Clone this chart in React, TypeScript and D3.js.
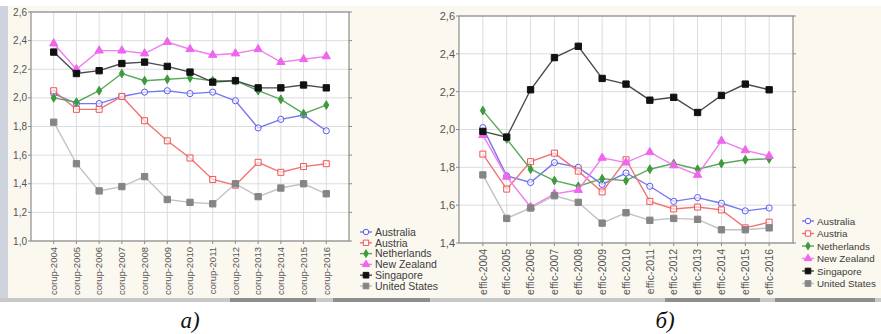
import React from "react"
import * as d3 from "d3"

// --- data ---
const years = ["2004", "2005", "2006", "2007", "2008", "2009", "2010", "2011", "2012", "2013", "2014", "2015", "2016"]
const corupCats = years.map((y) => "corup-" + y)
const efficCats = years.map((y) => "effic-" + y)

const countries = ["Australia", "Austria", "Netherlands", "New Zealand", "Singapore", "United States"]

const corupAustralia = [2.03, 1.96, 1.96, 2.01, 2.04, 2.05, 2.03, 2.04, 1.98, 1.79, 1.85, 1.88, 1.77]
const corupAustria = [2.05, 1.92, 1.92, 2.01, 1.84, 1.7, 1.58, 1.43, 1.39, 1.55, 1.48, 1.52, 1.54]
const corupNetherlands = [2.0, 1.97, 2.05, 2.17, 2.12, 2.13, 2.14, 2.12, 2.12, 2.05, 1.99, 1.89, 1.95]
const corupNewZealand = [2.38, 2.2, 2.33, 2.33, 2.31, 2.39, 2.34, 2.3, 2.31, 2.34, 2.25, 2.27, 2.29]
const corupSingapore = [2.32, 2.17, 2.19, 2.24, 2.25, 2.22, 2.18, 2.11, 2.12, 2.07, 2.07, 2.09, 2.07]
const corupUnitedStates = [1.83, 1.54, 1.35, 1.38, 1.45, 1.29, 1.27, 1.26, 1.4, 1.31, 1.37, 1.4, 1.33]

const efficAustralia = [2.01, 1.755, 1.72, 1.825, 1.8, 1.71, 1.77, 1.7, 1.62, 1.64, 1.61, 1.57, 1.585]
const efficAustria = [1.87, 1.685, 1.83, 1.875, 1.78, 1.67, 1.84, 1.62, 1.58, 1.59, 1.575, 1.48, 1.51]
const efficNetherlands = [2.1, 1.95, 1.79, 1.73, 1.7, 1.74, 1.73, 1.79, 1.82, 1.79, 1.82, 1.84, 1.845]
const efficNewZealand = [1.97, 1.75, 1.59, 1.66, 1.68, 1.85, 1.825, 1.88, 1.81, 1.76, 1.94, 1.89, 1.86]
const efficSingapore = [1.99, 1.96, 2.21, 2.38, 2.44, 2.27, 2.24, 2.155, 2.17, 2.09, 2.18, 2.24, 2.21]
const efficUnitedStates = [1.76, 1.53, 1.585, 1.65, 1.615, 1.505, 1.56, 1.52, 1.53, 1.525, 1.47, 1.47, 1.48]

const corupTicks = [1.0, 1.2, 1.4, 1.6, 1.8, 2.0, 2.2, 2.4, 2.6]
const efficTicks = [1.4, 1.6, 1.8, 2.0, 2.2, 2.4, 2.6]

// line colour, marker colour, marker type, open marker?
const styles = [
  { line: "#7676f4", mark: "#5b5bf0", sym: d3.symbolCircle, size: 30, open: true },
  { line: "#f27373", mark: "#ee5555", sym: d3.symbolSquare, size: 36, open: true },
  { line: "#5aa95a", mark: "#3f9a3f", sym: d3.symbolDiamond, size: 22, open: false },
  { line: "#f07cf0", mark: "#ee66ee", sym: d3.symbolTriangle, size: 30, open: false },
  { line: "#4a4a4a", mark: "#111111", sym: d3.symbolSquare, size: 40, open: false },
  { line: "#c2c2c2", mark: "#858585", sym: d3.symbolSquare, size: 40, open: false },
]

const panels = [
  {
    cats: corupCats,
    series: [corupAustralia, corupAustria, corupNetherlands, corupNewZealand, corupSingapore, corupUnitedStates],
    ticks: corupTicks,
    left: 31, right: 349, top: 12, bottom: 241,
    legX: 360, legY: 232, legStep: 10.8, legFont: 10.5,
    axisFont: 10, catFont: 9.5,
  },
  {
    cats: efficCats,
    series: [efficAustralia, efficAustria, efficNetherlands, efficNewZealand, efficSingapore, efficUnitedStates],
    ticks: efficTicks,
    left: 459, right: 793, top: 16, bottom: 243,
    legX: 802, legY: 221, legStep: 12.5, legFont: 9.8,
    axisFont: 11, catFont: 10.5,
  },
]

export default function App() {
  const ref = React.useRef<SVGSVGElement>(null)

  React.useEffect(() => {
    const svg = d3.select(ref.current)
    svg.selectAll("*").remove()

    // backgrounds
    svg.append("rect").attr("x", 0).attr("y", 0).attr("width", 881).attr("height", 334).attr("fill", "#ffffff")
    svg.append("rect").attr("x", 0).attr("y", 6).attr("width", 881).attr("height", 293).attr("fill", "#fbf8ef")
    svg.append("rect").attr("x", 0).attr("y", 6).attr("width", 8).attr("height", 293).attr("fill", "#cfd3dd")
    // bottom scroll strip
    svg.append("rect").attr("x", 0).attr("y", 298).attr("width", 881).attr("height", 4).attr("fill", "#c8c8c8")
    svg.append("rect").attr("x", 230).attr("y", 298).attr("width", 86).attr("height", 4).attr("fill", "#8e8e8e")
    svg.append("rect").attr("x", 333).attr("y", 298).attr("width", 97).attr("height", 4).attr("fill", "#8e8e8e")
    svg.append("rect").attr("x", 665).attr("y", 298).attr("width", 95).attr("height", 4).attr("fill", "#8e8e8e")
    svg.append("rect").attr("x", 775).attr("y", 298).attr("width", 100).attr("height", 4).attr("fill", "#8e8e8e")

    panels.forEach((p) => {
      const g = svg.append("g")
      const x = d3.scalePoint<string>().domain(p.cats).range([p.left, p.right]).padding(1)
      const y = d3.scaleLinear()
        .domain([p.ticks[0], p.ticks[p.ticks.length - 1]])
        .range([p.bottom, p.top])

      g.append("rect")
        .attr("x", p.left).attr("y", p.top)
        .attr("width", p.right - p.left).attr("height", p.bottom - p.top)
        .attr("fill", "#ffffff")

      // grid
      g.selectAll(".hg").data(p.ticks).enter().append("line")
        .attr("x1", p.left).attr("x2", p.right)
        .attr("y1", (d) => y(d)).attr("y2", (d) => y(d))
        .attr("stroke", "#dcdcdc").attr("stroke-width", 1)
      g.selectAll(".vg").data(p.cats).enter().append("line")
        .attr("x1", (d) => x(d)!).attr("x2", (d) => x(d)!)
        .attr("y1", p.top).attr("y2", p.bottom)
        .attr("stroke", "#dcdcdc").attr("stroke-width", 1)

      // frame + little outside ticks
      g.append("rect")
        .attr("x", p.left).attr("y", p.top)
        .attr("width", p.right - p.left).attr("height", p.bottom - p.top)
        .attr("fill", "none").attr("stroke", "#8c8c8c").attr("stroke-width", 1.2)
      g.selectAll(".rt").data(p.ticks).enter().append("line")
        .attr("x1", p.right).attr("x2", p.right + 3)
        .attr("y1", (d) => y(d)).attr("y2", (d) => y(d))
        .attr("stroke", "#8c8c8c")
      g.selectAll(".lt").data(p.ticks).enter().append("line")
        .attr("x1", p.left - 3).attr("x2", p.left)
        .attr("y1", (d) => y(d)).attr("y2", (d) => y(d))
        .attr("stroke", "#8c8c8c")
      g.selectAll(".bt").data(p.cats).enter().append("line")
        .attr("x1", (d) => x(d)!).attr("x2", (d) => x(d)!)
        .attr("y1", p.bottom).attr("y2", p.bottom + 3)
        .attr("stroke", "#8c8c8c")

      // y labels
      g.selectAll(".yl").data(p.ticks).enter().append("text")
        .attr("x", p.left - 4).attr("y", (d) => y(d) + p.axisFont * 0.35)
        .attr("text-anchor", "end")
        .attr("font-family", "'Liberation Sans', Arial, sans-serif")
        .attr("font-size", p.axisFont).attr("fill", "#555555")
        .text((d) => d3.format(".1f")(d).replace(".", ","))

      // x labels (rotated)
      g.selectAll(".xl").data(p.cats).enter().append("text")
        .attr("transform", (d) => `translate(${x(d)! + p.catFont * 0.35},${p.bottom + 6}) rotate(-90)`)
        .attr("text-anchor", "end")
        .attr("font-family", "'Liberation Sans', Arial, sans-serif")
        .attr("font-size", p.catFont).attr("fill", "#555555")
        .text((d) => d)

      const line = d3.line<number>()
        .x((d, i) => x(p.cats[i])!)
        .y((d) => y(d))

      p.series.forEach((s, k) => {
        const st = styles[k]
        g.append("path").datum(s)
          .attr("fill", "none").attr("stroke", st.line).attr("stroke-width", 1.4)
          .attr("d", line)
        const sym = d3.symbol().type(st.sym).size(st.size)
        g.selectAll(".m" + k).data(s).enter().append("path")
          .attr("transform", (d, i) => `translate(${x(p.cats[i])},${y(d)})`)
          .attr("d", sym)
          .attr("fill", st.open ? "#ffffff" : st.mark)
          .attr("fill-opacity", st.open ? 0.6 : 1)
          .attr("stroke", st.mark).attr("stroke-width", 1)
      })

      // legend
      countries.forEach((c, k) => {
        const st = styles[k]
        const ly = p.legY + k * p.legStep
        g.append("line")
          .attr("x1", p.legX).attr("x2", p.legX + 12)
          .attr("y1", ly).attr("y2", ly)
          .attr("stroke", st.line).attr("stroke-width", 1.4)
        g.append("path")
          .attr("transform", `translate(${p.legX + 6},${ly})`)
          .attr("d", d3.symbol().type(st.sym).size(st.size * 0.8)())
          .attr("fill", st.open ? "#ffffff" : st.mark)
          .attr("stroke", st.mark)
        g.append("text")
          .attr("x", p.legX + 15).attr("y", ly + p.legFont * 0.36)
          .attr("font-family", "'Liberation Sans', Arial, sans-serif")
          .attr("font-size", p.legFont).attr("fill", "#3c3c3c")
          .text(c)
      })
    })

    // captions
    const caps = [{ t: "а)", x: 190 }, { t: "б)", x: 665 }]
    svg.selectAll(".cap").data(caps).enter().append("text")
      .attr("x", (d) => d.x).attr("y", 328)
      .attr("text-anchor", "middle")
      .attr("font-family", "'Liberation Serif', 'Times New Roman', serif")
      .attr("font-style", "italic")
      .attr("font-size", 23).attr("fill", "#111111")
      .text((d) => d.t)
  }, [])

  return (
    <svg ref={ref} width={881} height={334}
      style={{ position: "absolute", left: 0, top: 0, display: "block" }} />
  )
}
